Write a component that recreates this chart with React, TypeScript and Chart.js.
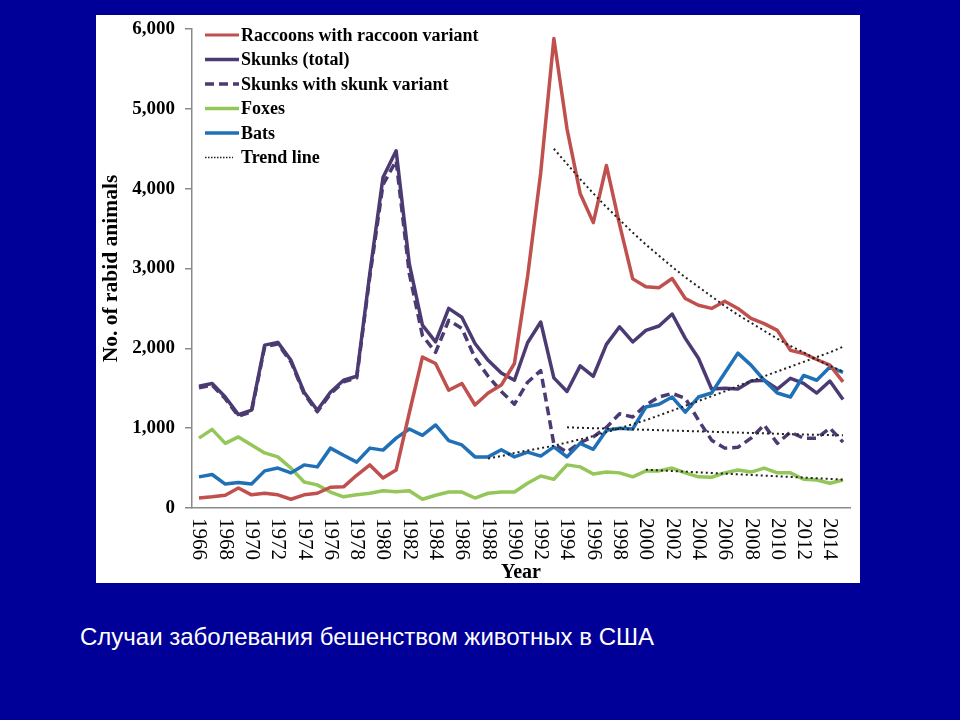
import React, { useEffect, useRef } from 'react';
import { Chart, registerables } from 'chart.js';
Chart.register(...registerables);

const YEARS = [
  1966, 1967, 1968, 1969, 1970, 1971, 1972, 1973, 1974, 1975,
  1976, 1977, 1978, 1979, 1980, 1981, 1982, 1983, 1984, 1985,
  1986, 1987, 1988, 1989, 1990, 1991, 1992, 1993, 1994, 1995,
  1996, 1997, 1998, 1999, 2000, 2001, 2002, 2003, 2004, 2005,
  2006, 2007, 2008, 2009, 2010, 2011, 2012, 2013, 2014, 2015,
];

const RACCOONS = [
  125, 140, 160, 250, 165, 185, 165, 110, 165, 185,
  260, 265, 410, 540, 375, 475, 1190, 1890, 1810, 1475,
  1560, 1290, 1440, 1540, 1810, 2900, 4200, 5880, 4750, 3940,
  3575, 4290, 3550, 2870, 2770, 2760, 2875, 2625, 2540, 2500,
  2590, 2500, 2375, 2310, 2225, 1975, 1935, 1860, 1790, 1580,
];

const SKUNKS_TOTAL = [
  1525, 1560, 1390, 1170, 1225, 2040, 2075, 1850, 1450, 1225,
  1450, 1600, 1650, 2940, 4140, 4475, 3060, 2290, 2080, 2500,
  2390, 2060, 1850, 1690, 1600, 2070, 2330, 1630, 1460, 1780,
  1650, 2050, 2270, 2080, 2225, 2280, 2430, 2125, 1875, 1490,
  1500, 1490, 1590, 1600, 1490, 1625, 1560, 1440, 1590, 1360,
];

const SKUNKS_VARIANT = [
  1505, 1540, 1370, 1150, 1205, 2020, 2055, 1830, 1430, 1205,
  1430, 1580, 1630, 2900, 4050, 4350, 2940, 2160, 1950, 2350,
  2250, 1880, 1650, 1460, 1300, 1575, 1720, 800, 700, 820,
  890, 1010, 1180, 1140, 1290, 1390, 1435, 1375, 1100, 850,
  750, 760, 875, 1040, 810, 950, 875, 875, 1000, 825,
];

const FOXES = [
  875, 985, 810, 890, 790, 690, 640, 500, 325, 290,
  200, 140, 165, 185, 215, 205, 215, 110, 160, 200,
  200, 125, 185, 200, 200, 310, 400, 360, 540, 515,
  425, 450, 440, 390, 465, 465, 500, 440, 390, 385,
  440, 475, 450, 500, 440, 440, 360, 350, 310, 350,
];

const BATS = [
  390, 420, 300, 320, 300, 465, 500, 440, 540, 515,
  750, 660, 575, 750, 725, 875, 990, 910, 1040, 845,
  790, 640, 640, 730, 640, 700, 650, 765, 640, 810,
  735, 975, 1000, 990, 1265, 1300, 1390, 1200, 1390, 1440,
  1690, 1940, 1790, 1600, 1440, 1390, 1660, 1600, 1765, 1700,
];

// Trend lines
const RACCOON_TREND_YEARS = [
  1993, 1994, 1995, 1996, 1997, 1998, 1999, 2000, 2001, 2002, 2003, 2004,
  2005, 2006, 2007, 2008, 2009, 2010, 2011, 2012, 2013, 2014, 2015,
];
const RACCOON_TREND = [
  4500, 4310, 4120, 3940, 3770, 3610, 3450, 3300, 3160, 3020, 2890, 2770,
  2650, 2530, 2420, 2320, 2220, 2120, 2030, 1950, 1860, 1780, 1710,
];

const BAT_TREND_YEARS = [
  1988, 1989, 1990, 1991, 1992, 1993, 1994, 1995, 1996, 1997, 1998, 1999,
  2000, 2001, 2002, 2003, 2004, 2005, 2006, 2007, 2008, 2009, 2010, 2011,
  2012, 2013, 2014, 2015,
];
const BAT_TREND = [
  620, 650, 690, 720, 750, 780, 820, 860, 900, 950, 1000, 1050,
  1100, 1160, 1220, 1280, 1340, 1400, 1460, 1530, 1590, 1650, 1710, 1770,
  1830, 1890, 1950, 2020,
];

const SKUNK_TREND_YEARS = [
  1994, 1995, 1996, 1997, 1998, 1999, 2000, 2001, 2002, 2003, 2004,
  2005, 2006, 2007, 2008, 2009, 2010, 2011, 2012, 2013, 2014, 2015,
];
const SKUNK_TREND = [
  1010, 1005, 1000, 995, 990, 985, 980, 975, 970, 965, 960,
  955, 950, 945, 940, 935, 930, 925, 920, 917, 913, 910,
];

const FOX_TREND_YEARS = [
  2000, 2001, 2002, 2003, 2004, 2005, 2006, 2007,
  2008, 2009, 2010, 2011, 2012, 2013, 2014, 2015,
];
const FOX_TREND = [
  480, 472, 464, 456, 447, 439, 430, 422,
  414, 406, 397, 389, 380, 372, 364, 355,
];

const X_TICK_LABELS = [
  '1966', '1968', '1970', '1972', '1974', '1976', '1978', '1980', '1982',
  '1984', '1986', '1988', '1990', '1992', '1994', '1996', '1998', '2000',
  '2002', '2004', '2006', '2008', '2010', '2012', '2014',
];

const LEGEND_ITEMS = [
  { label: 'Raccoons with raccoon variant', color: '#c0504d', dash: [] as number[], width: 3, len: 34 },
  { label: 'Skunks (total)', color: '#4b3b72', dash: [] as number[], width: 3.5, len: 34 },
  { label: 'Skunks with skunk variant', color: '#4b3b72', dash: [9, 5], width: 3.5, len: 34 },
  { label: 'Foxes', color: '#94c65a', dash: [] as number[], width: 3.5, len: 34 },
  { label: 'Bats', color: '#1f70b6', dash: [] as number[], width: 3.5, len: 34 },
  { label: 'Trend line', color: '#222222', dash: [1.5, 1.5], width: 1.5, len: 28 },
];

const CAPTION = 'Случаи заболевания бешенством животных в США';

const SERIF = '"Liberation Serif", "Times New Roman", serif';

export default function App() {
  const ref = useRef<HTMLCanvasElement>(null);

  useEffect(() => {
    const pts = (xs: number[], ys: number[]) => xs.map((x, i) => ({ x, y: ys[i] }));

    const trendStyle = {
      borderColor: '#222222',
      borderWidth: 2,
      borderDash: [2, 3],
      pointRadius: 0,
      tension: 0,
      fill: false,
    };
    const lineStyle = (color: string, dash: number[] = []) => ({
      borderColor: color,
      backgroundColor: color,
      borderWidth: 3.5,
      borderDash: dash,
      pointRadius: 0,
      tension: 0,
      fill: false,
      borderJoinStyle: 'round' as const,
    });

    const customPlugin = {
      id: 'customDraw',
      afterDraw(chart: any) {
        const ctx = chart.ctx as CanvasRenderingContext2D;
        const xs = chart.scales.x;
        const area = chart.chartArea;
        ctx.save();
        // x tick labels, rotated clockwise (reading top to bottom)
        ctx.fillStyle = '#000';
        ctx.font = `21px ${SERIF}`;
        ctx.textAlign = 'left';
        ctx.textBaseline = 'middle';
        X_TICK_LABELS.forEach((lab) => {
          const px = xs.getPixelForValue(Number(lab));
          ctx.save();
          ctx.translate(px, area.bottom + 10);
          ctx.rotate(Math.PI / 2);
          ctx.fillText(lab, 0, 0);
          ctx.restore();
        });
        // legend
        const lx = area.left + 13;
        let ly = 20;
        ctx.font = `bold 18px ${SERIF}`;
        LEGEND_ITEMS.forEach((it) => {
          ctx.save();
          ctx.strokeStyle = it.color;
          ctx.lineWidth = it.width;
          ctx.setLineDash(it.dash);
          ctx.beginPath();
          ctx.moveTo(lx, ly);
          ctx.lineTo(lx + it.len, ly);
          ctx.stroke();
          ctx.restore();
          ctx.fillStyle = '#000';
          ctx.textAlign = 'left';
          ctx.textBaseline = 'middle';
          ctx.fillText(it.label, lx + 36, ly + 1);
          ly += 24.5;
        });
        ctx.restore();
      },
    };

    const chart = new Chart(ref.current as HTMLCanvasElement, {
      type: 'line',
      data: {
        datasets: [
          { label: 'Raccoon trend', data: pts(RACCOON_TREND_YEARS, RACCOON_TREND), ...trendStyle },
          { label: 'Bat trend', data: pts(BAT_TREND_YEARS, BAT_TREND), ...trendStyle },
          { label: 'Skunk trend', data: pts(SKUNK_TREND_YEARS, SKUNK_TREND), ...trendStyle },
          { label: 'Fox trend', data: pts(FOX_TREND_YEARS, FOX_TREND), ...trendStyle },
          { label: 'Raccoons with raccoon variant', data: pts(YEARS, RACCOONS), ...lineStyle('#c0504d') },
          { label: 'Bats', data: pts(YEARS, BATS), ...lineStyle('#1f70b6') },
          { label: 'Skunks with skunk variant', data: pts(YEARS, SKUNKS_VARIANT), ...lineStyle('#4b3b72', [9, 5]) },
          { label: 'Skunks (total)', data: pts(YEARS, SKUNKS_TOTAL), ...lineStyle('#4b3b72') },
          { label: 'Foxes', data: pts(YEARS, FOXES), ...lineStyle('#94c65a') },
        ],
      },
      options: {
        animation: false,
        responsive: false,
        maintainAspectRatio: false,
        layout: { padding: { top: 14, right: 10, left: 0, bottom: 0 } },
        plugins: {
          legend: { display: false },
          tooltip: { enabled: false },
        },
        scales: {
          x: {
            type: 'linear',
            min: 1965.47,
            max: 2015.53,
            afterFit: (s: any) => {
              s.height = 75;
              s.paddingLeft = 0;
              s.paddingRight = 0;
            },
            ticks: { display: false },
            grid: { display: true, drawOnChartArea: false, drawTicks: false, color: '#8a8a8a' },
            border: { display: true, color: '#8a8a8a', width: 1.5 },
            title: {
              display: true,
              text: 'Year',
              color: '#000',
              font: { family: SERIF, size: 20, weight: 'bold', lineHeight: 1.0 },
              padding: { top: 0, bottom: 0 },
            },
          },
          y: {
            type: 'linear',
            min: 0,
            max: 6000,
            afterFit: (s: any) => {
              s.width = 96;
              s.paddingTop = 0;
              s.paddingBottom = 0;
            },
            ticks: {
              stepSize: 1000,
              padding: 10,
              color: '#000',
              font: { family: SERIF, size: 19, weight: 'bold' },
              callback: (v: any) => Number(v).toLocaleString('en-US'),
            },
            grid: {
              display: true,
              drawOnChartArea: false,
              drawTicks: true,
              tickLength: 7,
              color: '#8a8a8a',
              lineWidth: 1.5,
            },
            border: { display: true, color: '#8a8a8a', width: 1.5 },
            title: {
              display: true,
              text: 'No. of rabid animals',
              color: '#000',
              font: { family: SERIF, size: 21.5, weight: 'bold', lineHeight: 1.1 },
              padding: { top: 4, bottom: 0 },
            },
          },
        },
      },
      plugins: [customPlugin],
    });
    return () => chart.destroy();
  }, []);

  return (
    <div
      style={{
        position: 'fixed',
        left: 0,
        top: 0,
        width: 960,
        height: 720,
        background: '#000099',
        overflow: 'hidden',
      }}
    >
      <div
        style={{
          position: 'absolute',
          left: 96,
          top: 15,
          width: 764,
          height: 568,
          background: '#ffffff',
        }}
      >
        <canvas ref={ref} width={764} height={568} style={{ width: 764, height: 568, display: 'block' }} />
      </div>
      <div
        style={{
          position: 'absolute',
          left: 80,
          top: 621,
          color: '#ffffff',
          fontFamily: '"Liberation Sans", Arial, sans-serif',
          fontSize: 24,
          lineHeight: '32px',
          whiteSpace: 'nowrap',
        }}
      >
        {CAPTION}
      </div>
    </div>
  );
}
